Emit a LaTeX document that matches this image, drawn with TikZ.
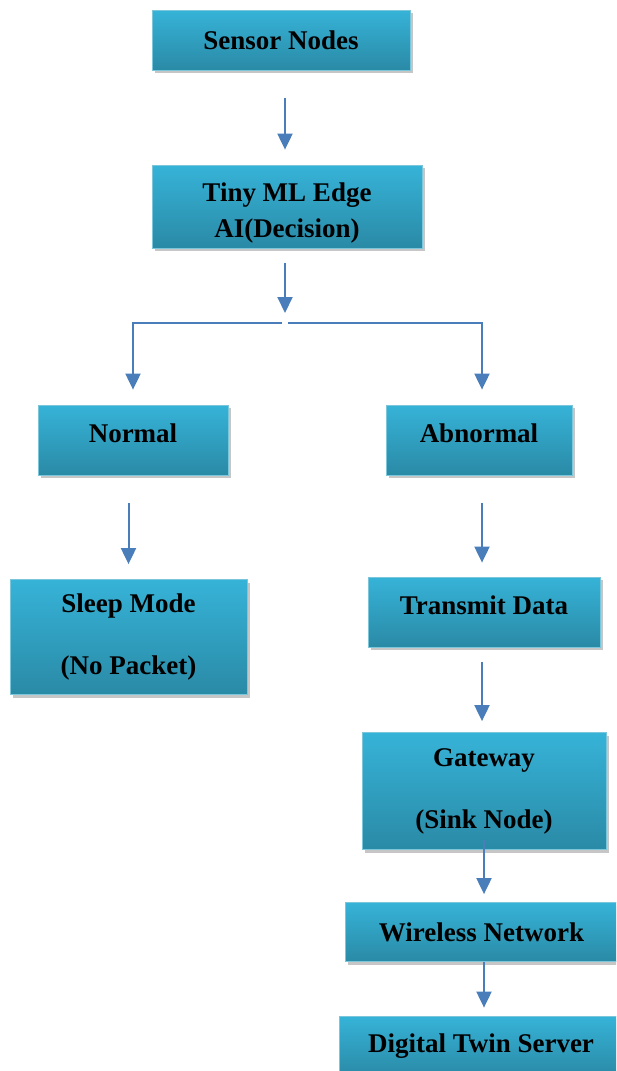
\documentclass[tikz,border=0pt]{standalone}
\usepackage{fontspec}
\setmainfont{Liberation Serif}
\usetikzlibrary{calc,positioning,arrows.meta,shadows}
\definecolor{boxtop}{HTML}{36B3D8}
\definecolor{boxbot}{HTML}{2A8AA6}
\definecolor{boxedge}{HTML}{7CC6DC}
\definecolor{flowblue}{HTML}{4A7EBB}

\begin{document}
\begin{tikzpicture}[x=1pt, y=-1pt,
  box/.style={rectangle, draw=boxedge, line width=0.8pt, top color=boxtop,
    bottom color=boxbot, drop shadow={shadow xshift=2.5pt, shadow yshift=-3pt, opacity=0.45},
    align=center, font=\fontsize{27}{36}\selectfont\bfseries, inner sep=0pt},
  flow/.style={draw=flowblue, line width=2pt, -{Triangle[width=15pt,length=16pt]}}]
\useasboundingbox (0,0) rectangle (616,1071);
\clip (0,0) rectangle (616,1071);
% The boxes, top to bottom
\node [box, minimum width=258pt, minimum height=60pt] (sensor) at (281,40) {Sensor Nodes};
\node [box, minimum width=270pt, minimum height=83pt, text height=62pt, text depth=0pt] (tiny) at (287,206.5) {Tiny ML Edge\\AI(Decision)};
\node [box, minimum width=190pt, minimum height=70pt, text depth=14pt] (normal) at (133,440) {Normal};
\node [box, minimum width=186pt, minimum height=70pt, text depth=14pt] (abnormal) at (479,440) {Abnormal};
\node [box, minimum width=237pt, minimum height=115pt] (sleep) at (128.5,637) {Sleep Mode\\[26pt](No Packet)};
\node [box, minimum width=232pt, minimum height=70pt, text depth=14pt] (transmit) at (484,612) {Transmit Data};
\node [box, minimum width=244pt, minimum height=117pt] (gateway) at (484,791) {Gateway\\[26pt](Sink Node)};
\node [box, minimum width=273pt, minimum height=59pt] (wireless) at (481.5,932) {Wireless Network};
\node [box, minimum width=284pt, minimum height=60pt] (digital) at (481,1046) {Digital Twin Server};
% Split point under the decision box
\coordinate (split) at (285,323);
% Arrows
\draw [flow, shorten <=28pt, shorten >=15pt] ([xshift=-2pt]tiny.north |- sensor.south) -- ([xshift=-2pt]tiny.north);
\draw [flow, shorten <=15pt, shorten >=10pt] (tiny.south -| split) -- (split);
\draw [flow, shorten >=15pt] ([xshift=-3pt]split) -| (normal.north);
\draw [flow, shorten >=15pt] ([xshift=3pt]split) -| ([xshift=3pt]abnormal.north);
\draw [flow, shorten <=28pt, shorten >=15pt] (sleep.north |- normal.south) -- (sleep.north);
\draw [flow, shorten <=28pt, shorten >=14pt] ([xshift=-2pt]transmit.north |- abnormal.south) -- ([xshift=-2pt]transmit.north);
\draw [flow, shorten <=15pt, shorten >=11pt] ([xshift=-2pt]transmit.south) -- ([xshift=-2pt]gateway.north);
\draw [flow, shorten <=-10pt, shorten >=8pt] (gateway.south) -- (gateway.south |- wireless.north);
\draw [flow, shorten >=8pt] (gateway.south |- wireless.south) -- (gateway.south |- digital.north);
\end{tikzpicture}
\end{document}
